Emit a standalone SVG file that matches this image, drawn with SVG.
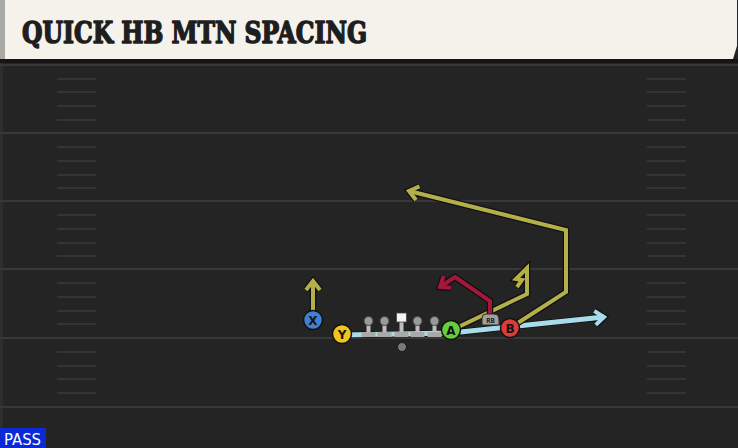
<svg xmlns="http://www.w3.org/2000/svg" width="738" height="448" viewBox="0 0 738 448">
<style>
.yard{stroke:#383838;stroke-width:2}
.hash{stroke:#3a3a3a;stroke-width:1.6}
.out{fill:none;stroke:#101010;stroke-width:6.5;stroke-linejoin:miter;stroke-linecap:butt}
.olive{fill:none;stroke:#b3b04c;stroke-width:4;stroke-linejoin:miter}
.red{fill:none;stroke:#a3183a;stroke-width:4;stroke-linejoin:miter}
.blue{fill:none;stroke:#a8dcea;stroke-width:5;stroke-linejoin:miter}
.pc{stroke:#121212;stroke-width:1.5}
.pl{font-family:"DejaVu Sans","Liberation Sans",sans-serif;font-weight:bold;font-size:12px;fill:#141414;text-anchor:middle}
.head{fill:#9a9a9a;stroke:#444;stroke-width:1}
.stem{fill:#bdbdbd}
.base{fill:#a9a9a9}
</style>
<defs>
<marker id="mo" markerUnits="userSpaceOnUse" viewBox="-12 -10 16 20" refX="0" refY="0" markerWidth="16" markerHeight="20" orient="auto" overflow="visible">
<path d="M-9,-7 L0,0 L-9,7" fill="none" stroke="#101010" stroke-width="6.5"/>
</marker>
<marker id="mol" markerUnits="userSpaceOnUse" viewBox="-12 -10 16 20" refX="0" refY="0" markerWidth="16" markerHeight="20" orient="auto" overflow="visible">
<path d="M-9,-7 L0,0 L-9,7" fill="none" stroke="#b3b04c" stroke-width="4"/>
</marker>
<marker id="mre" markerUnits="userSpaceOnUse" viewBox="-12 -10 16 20" refX="0" refY="0" markerWidth="16" markerHeight="20" orient="auto" overflow="visible">
<path d="M-9,-7 L0,0 L-9,7" fill="none" stroke="#a3183a" stroke-width="4"/>
</marker>
<marker id="mbl" markerUnits="userSpaceOnUse" viewBox="-12 -10 16 20" refX="0" refY="0" markerWidth="16" markerHeight="20" orient="auto" overflow="visible">
<path d="M-9,-7 L0,0 L-9,7" fill="none" stroke="#a8dcea" stroke-width="4"/>
</marker>
</defs>

<!-- field -->
<rect x="0" y="0" width="738" height="448" fill="#242424"/>
<rect x="0" y="59" width="738" height="4" fill="#151515"/>
<rect x="0" y="63" width="3" height="385" fill="#2e2e2e"/>
<g id="yardlines">
<line class="yard" x1="0" y1="65" x2="738" y2="65"/>
<line class="yard" x1="0" y1="133" x2="738" y2="133"/>
<line class="yard" x1="0" y1="201" x2="738" y2="201"/>
<line class="yard" x1="0" y1="269" x2="738" y2="269"/>
<line class="yard" x1="0" y1="338" x2="738" y2="338"/>
<line class="yard" x1="0" y1="407" x2="738" y2="407"/>
</g>
<g id="hashes">
<path class="hash" d="M57,79H96M57,92H96M57,106H96M57,120H96M57,147H96M57,161H96M57,175H96M57,188H96M57,215H96M57,229H96M57,243H96M57,256H96M57,283H96M57,297H96M57,311H96M57,324H96M57,352H96M57,366H96M57,379H96M57,393H96"/>
<path class="hash" d="M647,79H686M647,92H686M647,106H686M647,120H686M647,147H686M647,161H686M647,175H686M647,188H686M647,215H686M647,229H686M647,243H686M647,256H686M647,283H686M647,297H686M647,311H686M647,324H686M647,352H686M647,366H686M647,379H686M647,393H686"/>
</g>

<!-- header -->
<g id="header">
<path d="M0,0 H737 V46 L733,59 H0 Z" fill="#f5f2ec"/>
<rect x="0" y="0" width="5" height="59" fill="#a9a9a6"/>
<text x="22" y="43" font-family="'DejaVu Serif','Liberation Serif',serif" font-weight="bold" font-size="30" fill="#1e1e1e" stroke="#1e1e1e" stroke-width="1.6" stroke-linejoin="round" textLength="345" lengthAdjust="spacingAndGlyphs">QUICK HB MTN SPACING</text>
</g>

<!-- connectors -->
<g id="connectors">
<path class="out" d="M343,335 L451,333 L604,317" marker-end="url(#mo)"/>
<path class="blue" d="M343,335 L451,333 L604,317" marker-end="url(#mbl)"/>
<path class="out" d="M313,311 L313,281" marker-end="url(#mo)"/>
<path class="olive" d="M313,311 L313,281" marker-end="url(#mol)"/>
<path class="out" d="M452,330 L527,294 L527,268 L516,279 L522,280 L517,287"/>
<path class="olive" d="M452,330 L527,294 L527,268 L516,279 L522,280 L517,287"/>
<path class="out" d="M510,328 L566,292 L566,230 L409,191" marker-end="url(#mo)"/>
<path class="olive" d="M510,328 L566,292 L566,230 L409,191" marker-end="url(#mol)"/>
<path class="out" d="M490,315 L490,301 L455,277 L440,287" marker-end="url(#mo)"/>
<path class="red" d="M490,315 L490,301 L455,277 L440,287" marker-end="url(#mre)"/>
</g>

<!-- offensive line -->
<g id="lt"><rect class="base" x="361.5" y="332" width="14" height="5"/><rect class="stem" x="366.5" y="322" width="4" height="10"/><circle class="head" cx="368.5" cy="321" r="4.5"/></g>
<g id="lg"><rect class="base" x="377.5" y="332" width="14" height="5"/><rect class="stem" x="382.5" y="322" width="4" height="10"/><circle class="head" cx="384.5" cy="321" r="4.5"/></g>
<g id="c"><rect class="base" x="394.5" y="332" width="14" height="5"/><rect class="stem" x="399.5" y="322" width="4" height="10"/><rect x="396.5" y="313" width="10" height="9" fill="#f4f4f4" stroke="#444" stroke-width="0.8"/></g>
<g id="rg"><rect class="base" x="410.5" y="332" width="14" height="5"/><rect class="stem" x="415.5" y="322" width="4" height="10"/><circle class="head" cx="417.5" cy="321" r="4.5"/></g>
<g id="rt"><rect class="base" x="427.5" y="332" width="14" height="5"/><rect class="stem" x="432.5" y="322" width="4" height="10"/><circle class="head" cx="434.5" cy="321" r="4.5"/></g>
<g id="qb"><circle cx="402" cy="347" r="4.5" fill="#7a7a7a" stroke="#1a1a1a" stroke-width="1"/></g>

<!-- skill players -->
<g id="X"><circle class="pc" cx="313" cy="320" r="9.5" fill="#3f7fd6"/><text class="pl" x="313" y="324.5">X</text></g>
<g id="Y"><circle class="pc" cx="342" cy="334" r="9.5" fill="#f2c51c"/><text class="pl" x="342" y="338.5">Y</text></g>
<g id="A"><circle class="pc" cx="451" cy="330" r="9.5" fill="#63cf3c"/><text class="pl" x="451" y="334.5">A</text></g>
<g id="B"><circle class="pc" cx="510" cy="328" r="9.5" fill="#de3a3c"/><text class="pl" x="510" y="332.5">B</text></g>
<g id="RB"><path d="M482,325 V318 Q482,314 486,314 H494 Q499,314 499,320 V325 Z" fill="#a0a0a0" stroke="#2a2a2a" stroke-width="1"/><text x="490.5" y="323" font-family="'DejaVu Sans Mono','Liberation Mono',monospace" font-weight="bold" font-size="7" fill="#222" text-anchor="middle">RB</text></g>

<!-- play type -->
<g id="pass">
<rect x="0" y="428" width="46" height="20" fill="#0a2ad8"/>
<text x="4" y="445" font-family="'DejaVu Sans','Liberation Sans',sans-serif" font-size="16" fill="#ffffff" textLength="37" lengthAdjust="spacingAndGlyphs">PASS</text>
</g>
</svg>
